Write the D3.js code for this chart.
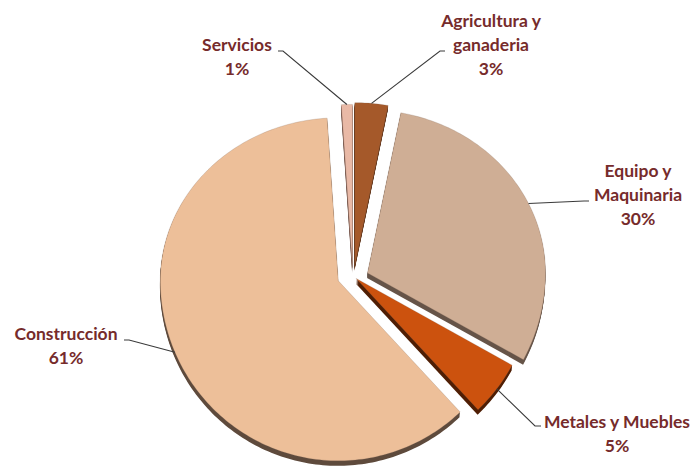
<!DOCTYPE html>
<html>
<head>
<meta charset="utf-8">
<script src="https://cdn.jsdelivr.net/npm/d3@7"></script>
<style>
  body { margin: 0; background: #fff; }
  text { font-family: Lato, "Open Sans", sans-serif; font-weight: bold; }
</style>
</head>
<body>
<div id="chart"></div>
<script>
// data
const categories = ["Agricultura y ganaderia", "Equipo y Maquinaria", "Metales y Muebles", "Construcción", "Servicios"];
const shares = [3, 30, 5, 61, 1];
const labelLines = [["Agricultura y", "ganaderia"], ["Equipo y", "Maquinaria"], ["Metales y Muebles"], ["Construcción"], ["Servicios"]];

// look
const topColors = ["#A5592A", "#CFAE95", "#CC520E", "#EDBF99", "#E9B9A6"];
const sideColors = ["#5a2c10", "#665448", "#4F1E04", "#5E4A3C", "#7a5a50"];
const explode = [19, 16, 4, 16, 16];

const width = 696, height = 466;
const cx = 353, cy = 277;
const rx = 178, ryTop = 163, ryBot = 180;
const depth = [-0.4, 5];

// label anchor (center x, first baseline) and leader start
const labelPos = [[491, 27], [638, 177], [617, 428], [66, 340], [237, 51]];
const leaderStart = [[445, 51, 440], [589, 201, 584], [541, 426, 535], [124, 340, 129], [278, 51, 283]];

const svg = d3.select("#chart").append("svg")
  .attr("width", width)
  .attr("height", height);

const arcs = d3.pie().sort(null).value(d => d)(shares);

// project an angle (clockwise from 12 o'clock) onto the tilted disc
function pt(a, off) {
  const s = Math.sin(a), c = Math.cos(a);
  return [cx + off[0] + rx * s, cy + off[1] - (c > 0 ? ryTop : ryBot) * c];
}

function offsetOf(i) {
  const m = (arcs[i].startAngle + arcs[i].endAngle) / 2;
  return [explode[i] * Math.sin(m), -explode[i] * Math.cos(m) * 0.6];
}

function slicePoints(d, off) {
  const n = Math.max(4, Math.ceil((d.endAngle - d.startAngle) / 0.02));
  const angles = d3.range(n + 1).map(k => d.startAngle + (d.endAngle - d.startAngle) * k / n);
  return [[cx + off[0], cy + off[1]]].concat(angles.map(a => pt(a, off)));
}

const line = d3.line().curve(d3.curveLinearClosed);

// draw back to front
const order = [4, 0, 1, 3, 2];
order.forEach(i => {
  const d = arcs[i];
  const off = offsetOf(i);
  const g = svg.append("g");
  // side (thickness)
  for (let t = 1; t <= 5; t++) {
    const o = [off[0] + depth[0] * t / 5, off[1] + depth[1] * t / 5];
    g.append("path")
      .attr("d", line(slicePoints(d, o)))
      .attr("fill", sideColors[i]);
  }
  // top face
  g.append("path")
    .attr("d", line(slicePoints(d, off)))
    .attr("fill", topColors[i])
    .attr("stroke", "rgba(120,95,80,0.35)")
    .attr("stroke-width", 0.6);
});

// leader lines
arcs.forEach((d, i) => {
  const m = (d.startAngle + d.endAngle) / 2;
  const end = pt(m, offsetOf(i));
  const s = leaderStart[i];
  svg.append("path")
    .attr("d", d3.line()([[s[0], s[1]], [s[2], s[1]], end]))
    .attr("fill", "none")
    .attr("stroke", "#3a3a3a")
    .attr("stroke-width", 1.1);
});

// labels
arcs.forEach((d, i) => {
  const lines = labelLines[i].concat([shares[i] + "%"]);
  const t = svg.append("text")
    .attr("text-anchor", "middle")
    .attr("font-size", 17.5)
    .attr("fill", "#762B2B");
  lines.forEach((s, k) => {
    t.append("tspan")
      .attr("x", labelPos[i][0])
      .attr("y", labelPos[i][1] + k * 24)
      .text(s);
  });
});
</script>
</body>
</html>
